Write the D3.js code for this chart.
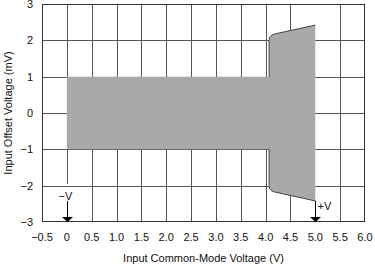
<!DOCTYPE html>
<meta charset="utf-8">
<script src="https://d3js.org/d3.v7.min.js"></script>
<style>
  body { margin: 0; background: #fff; font-family: "Liberation Sans", Arial, sans-serif; }
  .grid line { stroke: #555; stroke-width: 1; }
  .frame { fill: none; stroke: #333; stroke-width: 1; }
  .tick-label { font-size: 11px; fill: #111; }
  .title { font-size: 11px; fill: #111; }
</style>
<body></body>
<script>
// boundary of the shaded region (upper edge; lower edge is the mirror)
var edgeX = [0, 4.07, 4.07, 4.08, 4.11, 4.15, 4.2, 5.0];
var upperY = [1, 1, 2.0, 2.08, 2.13, 2.16, 2.18, 2.42];
var lowerY = [-1, -1, -2.0, -2.08, -2.13, -2.16, -2.18, -2.42];

var xTicks = [-0.5, 0, 0.5, 1.0, 1.5, 2.0, 2.5, 3.0, 3.5, 4.0, 4.5, 5.0, 5.5, 6.0];
var xTickLabels = ["\u22120.5", "0", "0.5", "1.0", "1.5", "2.0", "2.5", "3.0", "3.5", "4.0", "4.5", "5.0", "5.5", "6.0"];
var yTicks = [-3, -2, -1, 0, 1, 2, 3];
var yTickLabels = ["\u22123", "\u22122", "\u22121", "0", "1", "2", "3"];

// supply rails marked below the region
var rails = ["\u2212V", "+V"];
var railX = [0, 5];

var margin = {top: 4, right: 10, bottom: 46, left: 42};
var width = 375 - margin.left - margin.right,
    height = 268 - margin.top - margin.bottom;

var svg = d3.select("body").append("svg")
    .attr("width", 375)
    .attr("height", 268)
  .append("g")
    .attr("transform", "translate(" + margin.left + "," + margin.top + ")");

var x = d3.scaleLinear().domain([-0.5, 6]).range([0, width]),
    y = d3.scaleLinear().domain([-3, 3]).range([height, 0]);

var railTop = y(lowerY[lowerY.length - 1]);

// grid (no vertical line at 5.0, the +V marker sits there)
var grid = svg.append("g").attr("class", "grid");
grid.selectAll(".vx")
    .data(xTicks.filter(function(d) { return d > -0.5 && d < 6 && d !== 5; }))
  .enter().append("line")
    .attr("x1", function(d) { return Math.round(x(d)) + 0.5; })
    .attr("x2", function(d) { return Math.round(x(d)) + 0.5; })
    .attr("y1", 0)
    .attr("y2", function(d) { return d === 0 ? railTop - 17 : height; });
grid.selectAll(".hy")
    .data(yTicks.filter(function(d) { return d > -3 && d < 3; }))
  .enter().append("line")
    .attr("y1", function(d) { return Math.round(y(d)) + 0.5; })
    .attr("y2", function(d) { return Math.round(y(d)) + 0.5; })
    .attr("x1", 0).attr("x2", width);

// shaded region
var pts = edgeX.map(function(d, i) { return [d, upperY[i]]; });
var lowPts = edgeX.map(function(d, i) { return [d, lowerY[i]]; });
var line = d3.line()
    .x(function(d) { return x(d[0]); })
    .y(function(d) { return y(d[1]); });

svg.append("path")
    .attr("d", line(pts.concat(lowPts.slice().reverse())) + "Z")
    .attr("fill", "#a9a9a9")
    .attr("stroke", "none");
[pts, lowPts].forEach(function(p) {
  svg.append("path")
      .attr("d", line(p.slice(1)))
      .attr("fill", "none")
      .attr("stroke", "#444")
      .attr("stroke-width", 1);
});

// frame
svg.append("rect")
    .attr("class", "frame")
    .attr("x", 0.5).attr("y", 0.5)
    .attr("width", width - 1).attr("height", height - 1);

// supply markers
svg.append("defs").append("marker")
    .attr("id", "arrow")
    .attr("viewBox", "0 0 5 11")
    .attr("refX", 5).attr("refY", 5.5)
    .attr("markerWidth", 5).attr("markerHeight", 11)
    .attr("markerUnits", "userSpaceOnUse")
    .attr("orient", "auto")
  .append("path")
    .attr("d", "M0,0L5,5.5L0,11Z")
    .attr("fill", "#000");

railX.forEach(function(v, i) {
  var px = Math.round(x(v)) + 0.5;
  svg.append("line")
      .attr("x1", px).attr("x2", px)
      .attr("y1", railTop)
      .attr("y2", height)
      .attr("stroke", "#000")
      .attr("stroke-width", 1)
      .attr("marker-end", "url(#arrow)");
  svg.append("text")
      .attr("class", "title")
      .attr("x", i === 0 ? px - 2 : px + 2)
      .attr("y", i === 0 ? railTop - 1 : railTop + 9)
      .attr("text-anchor", i === 0 ? "middle" : "start")
      .text(rails[i]);
});

// tick labels
svg.append("g").selectAll("text")
    .data(xTicks)
  .enter().append("text")
    .attr("class", "tick-label")
    .attr("x", function(d) { return x(d); })
    .attr("y", height + 19)
    .attr("text-anchor", "middle")
    .text(function(d, i) { return xTickLabels[i]; });
svg.append("g").selectAll("text")
    .data(yTicks)
  .enter().append("text")
    .attr("class", "tick-label")
    .attr("x", -9)
    .attr("y", function(d) { return y(d); })
    .attr("dy", "0.35em")
    .attr("text-anchor", "end")
    .text(function(d, i) { return yTickLabels[i]; });

// axis titles
svg.append("text")
    .attr("class", "title")
    .attr("x", width / 2)
    .attr("y", height + 40)
    .attr("text-anchor", "middle")
    .text("Input Common-Mode Voltage (V)");
svg.append("text")
    .attr("class", "title")
    .attr("transform", "translate(" + (-30) + "," + (height / 2) + ") rotate(-90)")
    .attr("text-anchor", "middle")
    .text("Input Offset Voltage (mV)");
</script>
